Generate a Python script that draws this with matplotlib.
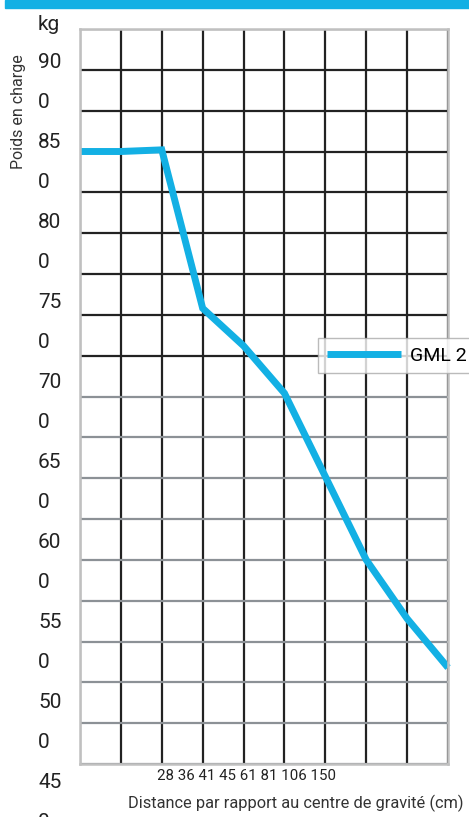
import matplotlib.pyplot as plt
import numpy as np

# Data
weights = [900, 850, 800, 750, 700, 650, 600, 550, 500, 450]   # y labels (kg)
points = list(range(10))                                        # x positions (grid columns)
load = [825, 825, 826, 729, 706, 677, 626, 575, 539, 509]       # GML 2 series (kg)
x_label_text = "28 36 41 45 61 81 106 150"
series_name = "GML 2"

BLUE = "#13b0e4"
plt.rcParams["font.family"] = ["Roboto", "DejaVu Sans"]

W, H = 469, 817
fig = plt.figure(figsize=(W / 100, H / 100), dpi=100)
ax = fig.add_axes([80 / W, (H - 764) / H, (448 - 80) / W, (764 - 29) / H])

ax.plot(points, load, color=BLUE, lw=5, solid_joinstyle="miter",
        solid_capstyle="butt", zorder=3, label=series_name, clip_on=False)

ax.set_xlim(0, 9)
ax.set_ylim(450, 900)
ax.set_xticks(np.arange(0, 10, 1))
ax.set_yticks(np.arange(450, 901, 25))
ax.tick_params(length=0, labelbottom=False, labelleft=False)
ax.grid(True, lw=1.6)
for gl in ax.get_xgridlines():
    gl.set_color("#222222")
for gl, v in zip(ax.get_ygridlines(), ax.get_yticks()):
    gl.set_color("#222222" if v >= 700 else "#8c9196")
for s in ax.spines.values():
    s.set_color("#c0c0c0")
    s.set_linewidth(1.8)
    s.set_zorder(4)

# y labels (wrapped in the original)
fig.text(38 / W, 1 - 25 / H, "kg", fontsize=15, va="center", ha="left", color="#222")
lines = []
for w in weights:
    lines += [str(w // 10), str(w % 10)]
for i, t in enumerate(lines):
    fig.text(38 / W, 1 - (63 + 40 * i) / H, t, fontsize=15, va="center",
             ha="left", color="#222")

fig.text(18 / W, 1 - 112 / H, "Poids en charge", rotation=90, fontsize=11.5,
         va="center", ha="center", color="#333")
fig.text(157 / W, 1 - 776 / H, x_label_text, fontsize=10.8, va="center",
         ha="left", color="#222")
fig.text(128 / W, 1 - 803 / H, "Distance par rapport au centre de gravité (cm)",
         fontsize=11.8, va="center", ha="left", color="#333")

# legend (runs to the right edge)
leg = ax.legend(loc="upper left",
                bbox_to_anchor=((318 - 80) / (448 - 80), 1 - (338 - 29) / (764 - 29)),
                borderaxespad=0, frameon=True, fancybox=False, fontsize=14,
                handlelength=3.8, borderpad=0.45, handletextpad=0.5)
leg.get_frame().set_edgecolor("#aaaaaa")
leg.get_frame().set_linewidth(1.0)
leg.set_zorder(5)

# top band
fig.patches.append(plt.Rectangle((5 / W, 1 - 8 / H), 1, 8 / H,
                                 transform=fig.transFigure, color=BLUE))

fig.savefig("out.png", dpi=100)
